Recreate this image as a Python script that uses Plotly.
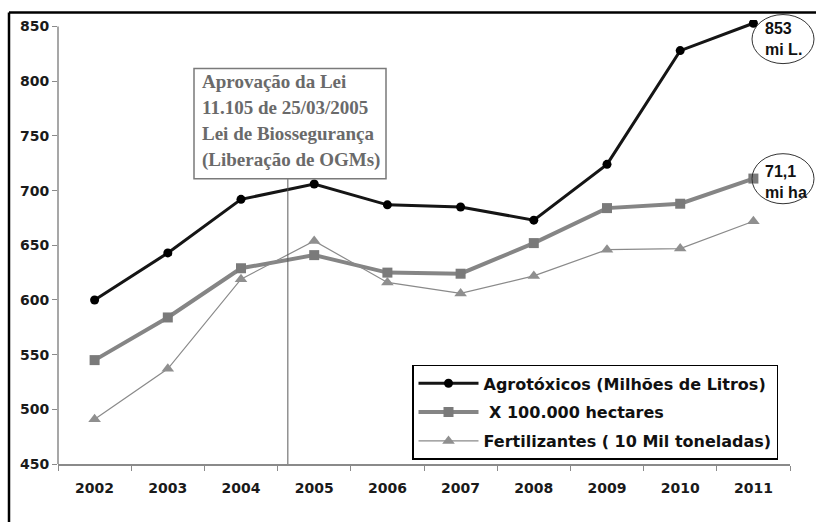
import plotly.graph_objects as go

# ---- data -------------------------------------------------------------
years = ["2002", "2003", "2004", "2005", "2006", "2007", "2008", "2009", "2010", "2011"]
agrotoxicos = [600, 643, 692, 706, 687, 685, 673, 724, 828, 853]     # milhões de litros
hectares = [545, 584, 629, 641, 625, 624, 652, 684, 688, 711]        # x 100.000 ha
fertilizantes = [491, 537, 619, 654, 616, 606, 622, 646, 647, 672]   # 10 mil toneladas

y_ticks = [450, 500, 550, 600, 650, 700, 750, 800, 850]
y_min, y_max = 450, 856          # a little headroom above the 850 tick for the 853 point
law_position = 2.64   # category position of the 25/03/2005 law (between 2004 and 2005)
law_text = ["Aprovação da Lei", "11.105 de 25/03/2005", "Lei de Biossegurança",
            "(Liberação de OGMs)"]
end_labels = [("853", 29), ("mi L.", 50), ("71,1", 172), ("mi ha", 193)]

# ---- layout geometry (pixels in an 817x522 page) ----------------------
W, H = 817, 522
PX_PER_UNIT = 437 / 400
L, R, B = 58, 27, 58
T = (H - B) - (y_max - y_min) * PX_PER_UNIT
PW, PH = W - L - R, H - T - B


def px(x):
    return (x - L) / PW


def py(y):
    return (H - B - y) / PH


fig = go.Figure()

fig.add_trace(go.Scatter(
    x=years, y=agrotoxicos, name="Agrotóxicos (Milhões de Litros)",
    mode="lines+markers", legendgroup="a",
    line=dict(color="#151515", width=3),
    marker=dict(symbol="circle", size=9, color="#000000"),
))
fig.add_trace(go.Scatter(
    x=years, y=hectares, name=" X 100.000 hectares",
    mode="lines+markers", legendgroup="b",
    line=dict(color="#858585", width=4),
    marker=dict(symbol="square", size=10, color="#7a7a7a"),
))
fig.add_trace(go.Scatter(
    x=years, y=fertilizantes, name="Fertilizantes ( 10 Mil toneladas)",
    mode="lines+markers", legendgroup="c",
    line=dict(color="#8a8a8a", width=1.2),
    marker=dict(symbol="triangle-up", size=11, color="#8f8f8f"),
))

tick_font = dict(family="DejaVu Sans", size=14, color="#1a1a1a", weight="bold")
frame_line = dict(color="#000000", width=2.5)

shapes = [
    # outer frame: left and top edges
    dict(type="line", xref="paper", yref="paper",
         x0=px(9), x1=px(9), y0=py(H), y1=py(13), line=frame_line),
    dict(type="line", xref="paper", yref="paper",
         x0=px(9), x1=px(W - 1), y0=py(13), y1=py(13), line=frame_line),
    # y axis line, running from the lowest to the highest tick
    dict(type="line", xref="paper", yref="y",
         x0=0, x1=0, y0=y_ticks[0], y1=y_ticks[-1],
         line=dict(color="#8a8a8a", width=1.5)),
    # law marker line
    dict(type="line", xref="x", yref="paper",
         x0=law_position, x1=law_position, y0=0, y1=py(179),
         line=dict(color="#5a5a5a", width=1)),
    # law text box
    dict(type="rect", xref="paper", yref="paper",
         x0=px(194), x1=px(386), y0=py(179), y1=py(69),
         line=dict(color="#7a7a7a", width=1.5), fillcolor="white"),
    # ellipses around the final values
    dict(type="circle", xref="paper", yref="paper",
         x0=px(752), x1=px(814), y0=py(64), y1=py(15),
         line=dict(color="#333333", width=1)),
    dict(type="circle", xref="paper", yref="paper",
         x0=px(752), x1=px(814), y0=py(204), y1=py(154),
         line=dict(color="#333333", width=1)),
]

annotations = []
for i, line in enumerate(law_text):
    annotations.append(dict(
        text=line, xref="paper", yref="paper", x=px(200), y=py(82 + 26 * i),
        xanchor="left", yanchor="middle", showarrow=False,
        font=dict(family="Liberation Serif", size=19, color="#6a6a6a", weight="bold"),
    ))

for text, yy in end_labels:
    annotations.append(dict(
        text=text, xref="paper", yref="paper", x=px(763), y=py(yy),
        xanchor="left", yanchor="middle", showarrow=False,
        font=dict(family="Liberation Sans", size=16, color="#111111", weight="bold"),
    ))

fig.update_layout(
    width=W, height=H,
    margin=dict(l=L, r=R, t=T, b=B, pad=0),
    paper_bgcolor="white", plot_bgcolor="white",
    showlegend=True,
    legend=dict(
        x=px(412), y=py(365), xanchor="left", yanchor="top",
        bordercolor="#000000", borderwidth=1.5, bgcolor="white",
        font=dict(family="DejaVu Sans", size=16, color="#111111", weight="bold"),
        traceorder="grouped", tracegroupgap=5, itemwidth=60,
    ),
    xaxis=dict(
        type="category", range=[-0.5, 9.5], tickson="boundaries",
        showline=True, linecolor="#8a8a8a", linewidth=1.5,
        ticks="outside", ticklen=5, tickcolor="#8a8a8a",
        showgrid=False, zeroline=False, tickfont=tick_font,
        ticklabelstandoff=10,
    ),
    yaxis=dict(
        range=[y_min, y_max], tickvals=y_ticks,
        showline=False,
        ticks="outside", ticklen=5, tickcolor="#8a8a8a",
        showgrid=False, zeroline=False, tickfont=tick_font,
    ),
    shapes=shapes,
    annotations=annotations,
)

fig.write_html("out.html")
